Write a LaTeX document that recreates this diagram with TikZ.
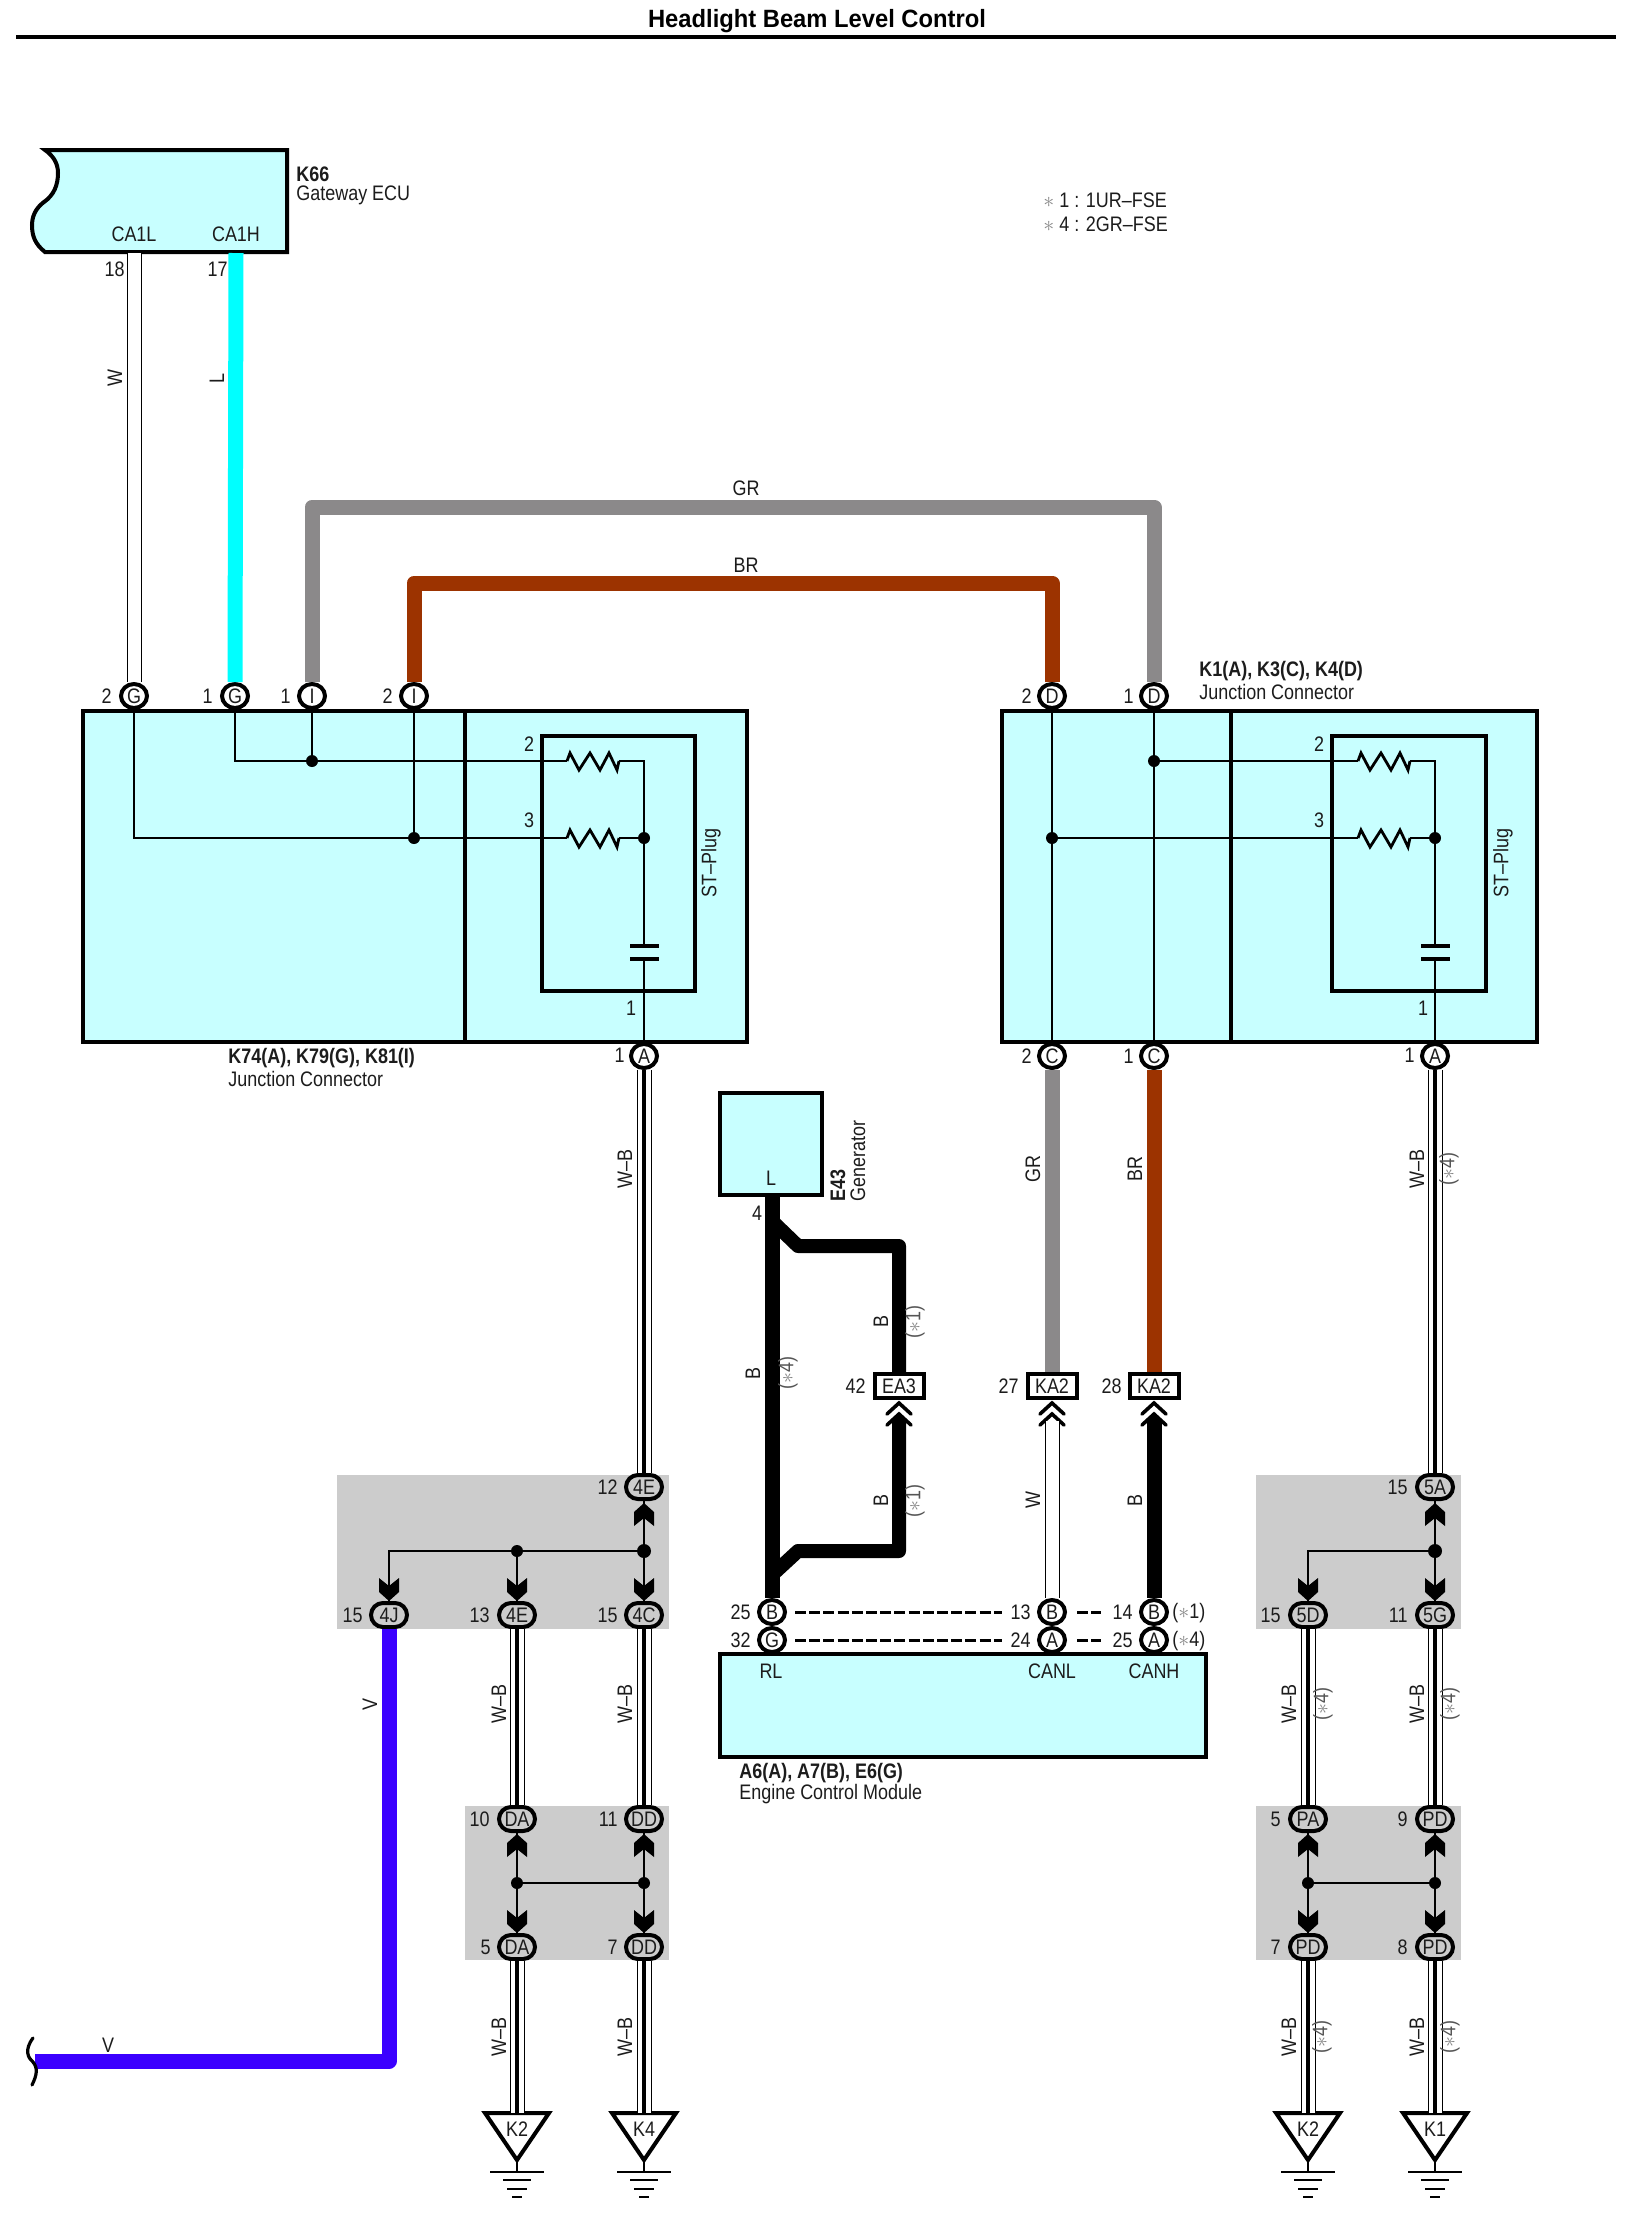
\documentclass[tikz,border=0pt]{standalone}
\usepackage{fontspec}
\setmainfont[FakeStretch=0.855]{Liberation Sans}
\newfontfamily\titlefont[FakeStretch=0.95]{Liberation Sans}
\usetikzlibrary{shapes.misc,shapes.geometric}
\definecolor{boxc}{HTML}{C8FFFF}
\definecolor{grayzone}{HTML}{CCCCCC}
\definecolor{wgray}{HTML}{8B898A}
\definecolor{wbrown}{HTML}{9C3300}
\definecolor{wcyan}{HTML}{00FFFF}
\definecolor{wviolet}{HTML}{3B00FF}
\definecolor{ink}{HTML}{1C1C1C}
\definecolor{soft}{HTML}{555555}
\definecolor{astc}{HTML}{888888}
\newcommand\pin[1]{\makebox[0pt]{\raisebox{-3.75pt}[0pt][0pt]{#1}}}
\newcommand\stardot{\textcolor{astc}{$\ast$}}
\tikzset{
  txt/.style={inner sep=0pt,text=ink,font=\fontsize{10.5}{12}\selectfont},
  heavy/.style={line width=2pt,draw=black},
  ln/.style={line width=1.4pt,draw=black,line cap=butt},
  boxx/.style={line width=2pt,draw=black,fill=boxc},
  zone/.style={fill=grayzone,draw=none},
  cnc/.style={ellipse,draw=black,line width=2pt,fill=white,inner sep=0pt,minimum width=13pt,minimum height=12pt,text=ink,font=\fontsize{10.5}{12}\selectfont},
  pill/.style={rounded rectangle,draw=black,line width=2pt,fill=grayzone,inner sep=0pt,minimum width=18pt,minimum height=12pt,text=ink,font=\fontsize{10.5}{12}\selectfont},
  rectc/.style={rectangle,draw=black,line width=2pt,fill=white,inner sep=0pt,minimum width=24.5pt,minimum height=12pt,text=ink,font=\fontsize{10.5}{12}\selectfont},
  dot/.style={circle,fill=black,inner sep=0pt,minimum size=6pt},
  wirec/.style={line width=7.5pt,draw=#1,line join=round},
  wirew/.style={line width=0.5pt,draw=black,double=white,double distance=6.5pt},
  wcore/.style={line width=1.7pt,draw=black},
  dsh/.style={line width=1.5pt,draw=black,dash pattern=on 5.5pt off 1.6pt},
  tipdown/.pic={\fill[black] (-10,-14)--(0,-6)--(10,-14)--(10,0)--(0,9)--(-10,0)--cycle;},
  tipup/.pic={\fill[black] (-10,14)--(0,6)--(10,14)--(10,0)--(0,-9)--(-10,0)--cycle;},
  chev/.pic={\draw[line width=1.8pt,black,line cap=round,line join=miter] (-12,11)--(0,0)--(12,11) (-12,22)--(0,11)--(12,22);},
  chevfill/.pic={\fill[black] (0,11)--(7.5,18.5)--(7.5,20)--(-7.5,20)--(-7.5,18.5)--cycle;},
  resist/.pic={\draw[ln,line join=miter] (0,0)--(3,-8)--(12,9)--(23,-8)--(33,9)--(42,-8)--(50,9)--(52,0);},
}
\newcommand\tx[5]{\node[txt,#4] (#1) at (#2,#3) {#5};}
\newcommand\wb[2]{\draw[wirew] (#1) -- (#2); \draw[wcore] (#1) -- (#2);}
\newcommand\gnd[3]{%
  \coordinate (#1) at (#2,2113);
  \draw[heavy,fill=white,line join=miter] (#2-32,2113)--(#2+32,2113)--(#2,2160)--cycle;
  \draw[ln] (#2,2160)--(#2,2172);
  \draw[ln] (#2-27,2172)--(#2+27,2172);
  \draw[ln] (#2-14,2180)--(#2+14,2180);
  \draw[ln] (#2-10,2189)--(#2+10,2189);
  \draw[ln] (#2-5,2197)--(#2+5,2197);
  \node[txt] (#1t) at (#2,2129) {#3};}
\begin{document}
\begin{tikzpicture}[x=0.5pt,y=-0.5pt]
\useasboundingbox (0,0) rectangle (1632,2218);
\fill[white] (0,0) rectangle (1632,2218);
% title
\node[txt,font=\titlefont\bfseries\fontsize{12.5}{14}\selectfont,text=black] (title) at (817,21) {Headlight Beam Level Control};
\coordinate (ruleL) at (16,37); \coordinate (ruleR) at (1616,37);
\draw[heavy] (ruleL)--(ruleR);
% note
\tx{n1}{1043}{200}{anchor=west}{\stardot\ 1 : 1UR–FSE}
\tx{n2}{1043}{224}{anchor=west}{\stardot\ 4 : 2GR–FSE}
% K66
\draw[boxx,line join=miter] (45,150)--(287,150)--(287,252)--(45,252)
  .. controls (35,244) and (32,236) .. (32,225)
  .. controls (32,212) and (40,205) .. (44,202)
  .. controls (54,195) and (58,185) .. (58,173)
  .. controls (58,162) and (52,155) .. (45,150)--cycle;
\tx{k66}{296}{174}{anchor=west,font=\bfseries\fontsize{10.5}{12}\selectfont}{K66}
\tx{k66b}{296}{195}{anchor=west}{Gateway ECU}
\tx{ca1l}{134}{234}{}{CA1L}
\tx{ca1h}{236}{234}{}{CA1H}
\tx{n18}{125}{269}{anchor=east}{18}
\tx{n17}{228}{269}{anchor=east}{17}
\coordinate (k66w) at (134,253); \coordinate (k66l) at (236,253);
% junction boxes
\draw[boxx] (83,711) rectangle (747,1042);
\draw[heavy] (465,711)--(465,1042);
\draw[heavy] (542,736) rectangle (695,991);
\draw[boxx] (1002,711) rectangle (1537,1042);
\draw[heavy] (1231,711)--(1231,1042);
\draw[heavy] (1332,736) rectangle (1486,991);
% connectors at top / bottom of boxes
\node[cnc] (g1) at (134,696) {\pin{G}};
\node[cnc] (g2) at (235,696) {\pin{G}};
\node[cnc] (i1) at (312,696) {\pin{I}};
\node[cnc] (i2) at (414,696) {\pin{I}};
\node[cnc] (a1) at (644,1056) {\pin{A}};
\node[cnc] (d1) at (1052,696) {\pin{D}};
\node[cnc] (d2) at (1154,696) {\pin{D}};
\node[cnc] (c1) at (1052,1056) {\pin{C}};
\node[cnc] (c2) at (1154,1056) {\pin{C}};
\node[cnc] (a2) at (1435,1056) {\pin{A}};
\tx{lg1}{112}{696}{anchor=east}{2}
\tx{lg2}{213}{696}{anchor=east}{1}
\tx{li1}{291}{696}{anchor=east}{1}
\tx{li2}{393}{696}{anchor=east}{2}
\tx{la1}{625}{1055}{anchor=east}{1}
\tx{ld1}{1032}{696}{anchor=east}{2}
\tx{ld2}{1134}{696}{anchor=east}{1}
\tx{lc1}{1032}{1056}{anchor=east}{2}
\tx{lc2}{1134}{1056}{anchor=east}{1}
\tx{la2}{1415}{1055}{anchor=east}{1}
% upper wires
\draw[wirew] (k66w)--(g1.north);
\draw[wirec=wcyan] (k66l)--(g2.north);
\coordinate (grL) at (312,507); \coordinate (grR) at (1154,507);
\coordinate (brL) at (414,583); \coordinate (brR) at (1052,583);
\draw[wirec=wgray] (i1.north)--(grL)--(grR)--(d2.north);
\draw[wirec=wbrown] (i2.north)--(brL)--(brR)--(d1.north);
\tx{lw}{115}{378}{rotate=90}{W}
\tx{ll}{217}{378}{rotate=90}{L}
\tx{lgr}{746}{488}{}{GR}
\tx{lbr}{746}{565}{}{BR}
% left box inner
\node[dot] (dl1) at (312,761) {};
\node[dot] (dl2) at (414,838) {};
\node[dot] (dl3) at (644,838) {};
\coordinate (rl1a) at (567,761); \coordinate (rl1b) at (619,761);
\coordinate (rl2a) at (567,838); \coordinate (rl2b) at (619,838);
\coordinate (cl1) at (644,946); \coordinate (cl2) at (644,959);
\coordinate (cnl1) at (644,761); \coordinate (bl2) at (134,838); \coordinate (bl1) at (235,761);
\draw[ln] (g2.south)--(bl1)--(dl1)--(rl1a);
\draw[ln] (i1.south)--(dl1);
\draw[ln] (g1.south)--(bl2)--(dl2)--(rl2a);
\draw[ln] (i2.south)--(dl2);
\pic at (rl1a) {resist}; \pic at (rl2a) {resist};
\draw[ln] (rl1b)--(cnl1)--(dl3)--(cl1);
\draw[ln] (rl2b)--(dl3);
\draw[ln] (cl2)--(a1.north);
\draw[line width=2pt] (630,946)--(659,946) (630,959)--(659,959);
\tx{r2}{529}{744}{}{2}
\tx{r3}{529}{820}{}{3}
\tx{r1}{631}{1008}{}{1}
\tx{st1}{711}{863}{rotate=90}{ST–Plug}
% right box inner
\node[dot] (dr1) at (1154,761) {};
\node[dot] (dr2) at (1052,838) {};
\node[dot] (dr3) at (1435,838) {};
\coordinate (rr1a) at (1358,761); \coordinate (rr1b) at (1410,761);
\coordinate (rr2a) at (1358,838); \coordinate (rr2b) at (1410,838);
\coordinate (cr1) at (1435,946); \coordinate (cr2) at (1435,959); \coordinate (cnr1) at (1435,761);
\draw[ln] (d1.south)--(c1.north);
\draw[ln] (d2.south)--(c2.north);
\draw[ln] (dr1)--(rr1a);
\draw[ln] (dr2)--(rr2a);
\pic at (rr1a) {resist}; \pic at (rr2a) {resist};
\draw[ln] (rr1b)--(cnr1)--(dr3)--(cr1);
\draw[ln] (rr2b)--(dr3);
\draw[ln] (cr2)--(a2.north);
\draw[line width=2pt] (1421,946)--(1450,946) (1421,959)--(1450,959);
\tx{rr2}{1319}{744}{}{2}
\tx{rr3}{1319}{820}{}{3}
\tx{rr1}{1423}{1008}{}{1}
\tx{st2}{1503}{863}{rotate=90}{ST–Plug}
% box labels
\tx{k74}{228}{1058}{anchor=west,font=\bfseries\fontsize{10.5}{12}\selectfont}{K74(A), K79(G), K81(I)}
\tx{k74b}{228}{1079}{anchor=west}{Junction Connector}
\tx{k1}{1199}{671}{anchor=west,font=\bfseries\fontsize{10.5}{12}\selectfont}{K1(A), K3(C), K4(D)}
\tx{k1b}{1199}{692}{anchor=west}{Junction Connector}
% gray zones
\fill[zone] (337,1475) rectangle (669,1629);
\fill[zone] (465,1806) rectangle (669,1960);
\fill[zone] (1256,1475) rectangle (1461,1629);
\fill[zone] (1256,1806) rectangle (1461,1960);
% pills
\node[pill] (p4e) at (644,1487) {\pin{4E}};
\node[pill] (p4j) at (389,1615) {\pin{4J}};
\node[pill] (p4eb) at (517,1615) {\pin{4E}};
\node[pill] (p4c) at (644,1615) {\pin{4C}};
\node[pill] (pda) at (517,1819) {\pin{DA}};
\node[pill] (pdd) at (644,1819) {\pin{DD}};
\node[pill] (pdab) at (517,1947) {\pin{DA}};
\node[pill] (pddb) at (644,1947) {\pin{DD}};
\node[pill] (p5a) at (1435,1487) {\pin{5A}};
\node[pill] (p5d) at (1308,1615) {\pin{5D}};
\node[pill] (p5g) at (1435,1615) {\pin{5G}};
\node[pill] (ppa) at (1308,1819) {\pin{PA}};
\node[pill] (ppd) at (1435,1819) {\pin{PD}};
\node[pill] (ppdb) at (1308,1947) {\pin{PD}};
\node[pill] (ppdc) at (1435,1947) {\pin{PD}};
\tx{n12}{618}{1487}{anchor=east}{12}
\tx{n15a}{363}{1615}{anchor=east}{15}
\tx{n13}{490}{1615}{anchor=east}{13}
\tx{n15b}{618}{1615}{anchor=east}{15}
\tx{n10}{490}{1819}{anchor=east}{10}
\tx{n11}{618}{1819}{anchor=east}{11}
\tx{n5}{491}{1947}{anchor=east}{5}
\tx{n7}{618}{1947}{anchor=east}{7}
\tx{n15c}{1408}{1487}{anchor=east}{15}
\tx{n15d}{1281}{1615}{anchor=east}{15}
\tx{n11b}{1408}{1615}{anchor=east}{11}
\tx{n5b}{1281}{1819}{anchor=east}{5}
\tx{n9}{1408}{1819}{anchor=east}{9}
\tx{n7b}{1281}{1947}{anchor=east}{7}
\tx{n8}{1408}{1947}{anchor=east}{8}
% splice left upper
\node[dot] (s1) at (517,1551) {};
\node[dot,minimum size=7pt] (s2) at (644,1551) {};
\coordinate (s0) at (389,1551);
\draw[ln] (p4e.south)--(s2)--(p4c.north);
\draw[ln] (s2)--(s1)--(s0)--(p4j.north);
\draw[ln] (s1)--(p4eb.north);
\pic at (644,1512) {tipup};
\pic at (389,1592) {tipdown};
\pic at (517,1592) {tipdown};
\pic at (644,1592) {tipdown};
% splice left lower
\node[dot] (s3) at (517,1883) {};
\node[dot] (s4) at (644,1883) {};
\draw[ln] (pda.south)--(s3)--(pdab.north);
\draw[ln] (pdd.south)--(s4)--(pddb.north);
\draw[ln] (s3)--(s4);
\pic at (517,1843) {tipup}; \pic at (644,1843) {tipup};
\pic at (517,1924) {tipdown}; \pic at (644,1924) {tipdown};
% splice right upper
\node[dot,minimum size=7pt] (s5) at (1435,1551) {};
\coordinate (s6) at (1308,1551);
\draw[ln] (p5a.south)--(s5)--(p5g.north);
\draw[ln] (s5)--(s6)--(p5d.north);
\pic at (1435,1512) {tipup};
\pic at (1308,1592) {tipdown};
\pic at (1435,1592) {tipdown};
% splice right lower
\node[dot] (s7) at (1308,1883) {};
\node[dot] (s8) at (1435,1883) {};
\draw[ln] (ppa.south)--(s7)--(ppdb.north);
\draw[ln] (ppd.south)--(s8)--(ppdc.north);
\draw[ln] (s7)--(s8);
\pic at (1308,1843) {tipup}; \pic at (1435,1843) {tipup};
\pic at (1308,1924) {tipdown}; \pic at (1435,1924) {tipdown};
% grounds
\gnd{gk2}{517}{K2}
\gnd{gk4}{644}{K4}
\gnd{gk2b}{1308}{K2}
\gnd{gk1}{1435}{K1}
% W-B wires
\wb{a1.south}{p4e.north}
\wb{a2.south}{p5a.north}
\wb{p4eb.south}{pda.north}
\wb{p4c.south}{pdd.north}
\wb{p5d.south}{ppa.north}
\wb{p5g.south}{ppd.north}
\wb{pdab.south}{gk2}
\wb{pddb.south}{gk4}
\wb{ppdb.south}{gk2b}
\wb{ppdc.south}{gk1}
\tx{wb1}{625}{1169}{rotate=90}{W–B}
\tx{wb2}{1417}{1169}{rotate=90}{W–B}
\tx{wb2s}{1449}{1169}{rotate=90,text=soft}{(\stardot4)}
\tx{wb3}{499}{1704}{rotate=90}{W–B}
\tx{wb4}{625}{1704}{rotate=90}{W–B}
\tx{wb5}{1289}{1704}{rotate=90}{W–B}
\tx{wb5s}{1323}{1704}{rotate=90,text=soft}{(\stardot4)}
\tx{wb6}{1417}{1704}{rotate=90}{W–B}
\tx{wb6s}{1450}{1704}{rotate=90,text=soft}{(\stardot4)}
\tx{wb7}{499}{2037}{rotate=90}{W–B}
\tx{wb8}{625}{2037}{rotate=90}{W–B}
\tx{wb9}{1289}{2037}{rotate=90}{W–B}
\tx{wb9s}{1322}{2037}{rotate=90,text=soft}{(\stardot4)}
\tx{wb10}{1417}{2037}{rotate=90}{W–B}
\tx{wb10s}{1450}{2037}{rotate=90,text=soft}{(\stardot4)}
% V wire
\coordinate (vc) at (389,2061); \coordinate (vl) at (35,2061);
\draw[wirec=wviolet] (p4j.south)--(vc)--(vl);
\draw[line width=1.6pt,line cap=round] (33,2038) .. controls (24,2050) and (28,2058) .. (33,2062) .. controls (38,2068) and (37,2075) .. (32,2085);
\tx{lv1}{370}{1704}{rotate=90}{V}
\tx{lv2}{108}{2045}{}{V}
% E43
\draw[boxx] (720,1093) rectangle (822,1195);
\tx{ll2}{771}{1178}{}{L}
\tx{e43}{838}{1202}{rotate=90,anchor=west,font=\bfseries\fontsize{10.5}{12}\selectfont}{E43}
\tx{e43b}{858}{1202}{rotate=90,anchor=west}{Generator}
\tx{n4}{757}{1213}{}{4}
\coordinate (e43o) at (772,1196);
% connector boxes
\node[rectc] (ea3) at (899,1386) {\pin{EA3}};
\node[rectc] (ka1) at (1052,1386) {\pin{KA2}};
\node[rectc] (ka2) at (1154,1386) {\pin{KA2}};
\tx{n42}{866}{1386}{anchor=east}{42}
\tx{n27}{1019}{1386}{anchor=east}{27}
\tx{n28}{1122}{1386}{anchor=east}{28}
\pic at (899,1403) {chev};
\pic at (1052,1403) {chev};
\pic at (1154,1403) {chev};
\pic at (899,1403) {chevfill};
\pic at (1154,1403) {chevfill};
\coordinate (ea3in) at (899,1422); \coordinate (ka1in) at (1052,1421); \coordinate (ka2in) at (1154,1422);
% ECM
\draw[boxx] (720,1654) rectangle (1206,1757);
\node[cnc] (eb1) at (772,1612) {\pin{B}};
\node[cnc] (eg1) at (772,1640) {\pin{G}};
\node[cnc] (eb2) at (1052,1612) {\pin{B}};
\node[cnc] (ea2) at (1052,1640) {\pin{A}};
\node[cnc] (eb3) at (1154,1612) {\pin{B}};
\node[cnc] (ea4) at (1154,1640) {\pin{A}};
\tx{n25a}{751}{1612}{anchor=east}{25}
\tx{n32}{751}{1640}{anchor=east}{32}
\tx{n13b}{1031}{1612}{anchor=east}{13}
\tx{n24}{1031}{1640}{anchor=east}{24}
\tx{n14}{1133}{1612}{anchor=east}{14}
\tx{n25b}{1133}{1640}{anchor=east}{25}
\tx{s14}{1172}{1613}{anchor=west}{(\stardot 1)}
\tx{s25}{1172}{1641}{anchor=west}{(\stardot 4)}
\tx{rl}{771}{1671}{}{RL}
\tx{canl}{1052}{1671}{}{CANL}
\tx{canh}{1154}{1671}{}{CANH}
\tx{a6}{739}{1773}{anchor=west,font=\bfseries\fontsize{10.5}{12}\selectfont}{A6(A), A7(B), E6(G)}
\tx{a6b}{739}{1794}{anchor=west}{Engine Control Module}
% dashes
\coordinate (d1a) at (795,1612); \coordinate (d1b) at (1002,1612);
\coordinate (d2a) at (795,1640); \coordinate (d2b) at (1002,1640);
\coordinate (d3a) at (1077,1612); \coordinate (d3b) at (1101,1612);
\coordinate (d4a) at (1077,1640); \coordinate (d4b) at (1101,1640);
\draw[dsh] (d1a)--(d1b); \draw[dsh] (d2a)--(d2b);
\draw[dsh] (d3a)--(d3b); \draw[dsh] (d4a)--(d4b);
% middle wires
\draw[line width=7.5pt,black] (e43o)--(eb1.north);
\coordinate (bu1) at (772,1221); \coordinate (bu2) at (798,1246); \coordinate (bu3) at (899,1246);
\coordinate (bl1x) at (772,1575); \coordinate (bl2x) at (798,1551); \coordinate (bl3x) at (899,1551);
\draw[line width=7pt,black,line join=round] (bu1)--(bu2)--(bu3)--(ea3.north);
\draw[line width=7pt,black,line join=round] (bl1x)--(bl2x)--(bl3x)--(ea3in);
\draw[wirec=wgray] (c1.south)--(ka1.north);
\draw[wirec=wbrown] (c2.south)--(ka2.north);
\draw[wirew] (ka1in)--(eb2.north);
\draw[wirec=black] (ka2in)--(eb3.north);
\tx{lb1}{753}{1373}{rotate=90}{B}
\tx{ls1}{788}{1373}{rotate=90,text=soft}{(\stardot4)}
\tx{lb2}{881}{1321}{rotate=90}{B}
\tx{ls2}{915}{1322}{rotate=90,text=soft}{(\stardot1)}
\tx{lb3}{881}{1500}{rotate=90}{B}
\tx{ls3}{915}{1501}{rotate=90,text=soft}{(\stardot1)}
\tx{lgr2}{1033}{1169}{rotate=90}{GR}
\tx{lbr2}{1135}{1169}{rotate=90}{BR}
\tx{lw2}{1033}{1500}{rotate=90}{W}
\tx{lb4}{1135}{1500}{rotate=90}{B}
\end{tikzpicture}
\end{document}
